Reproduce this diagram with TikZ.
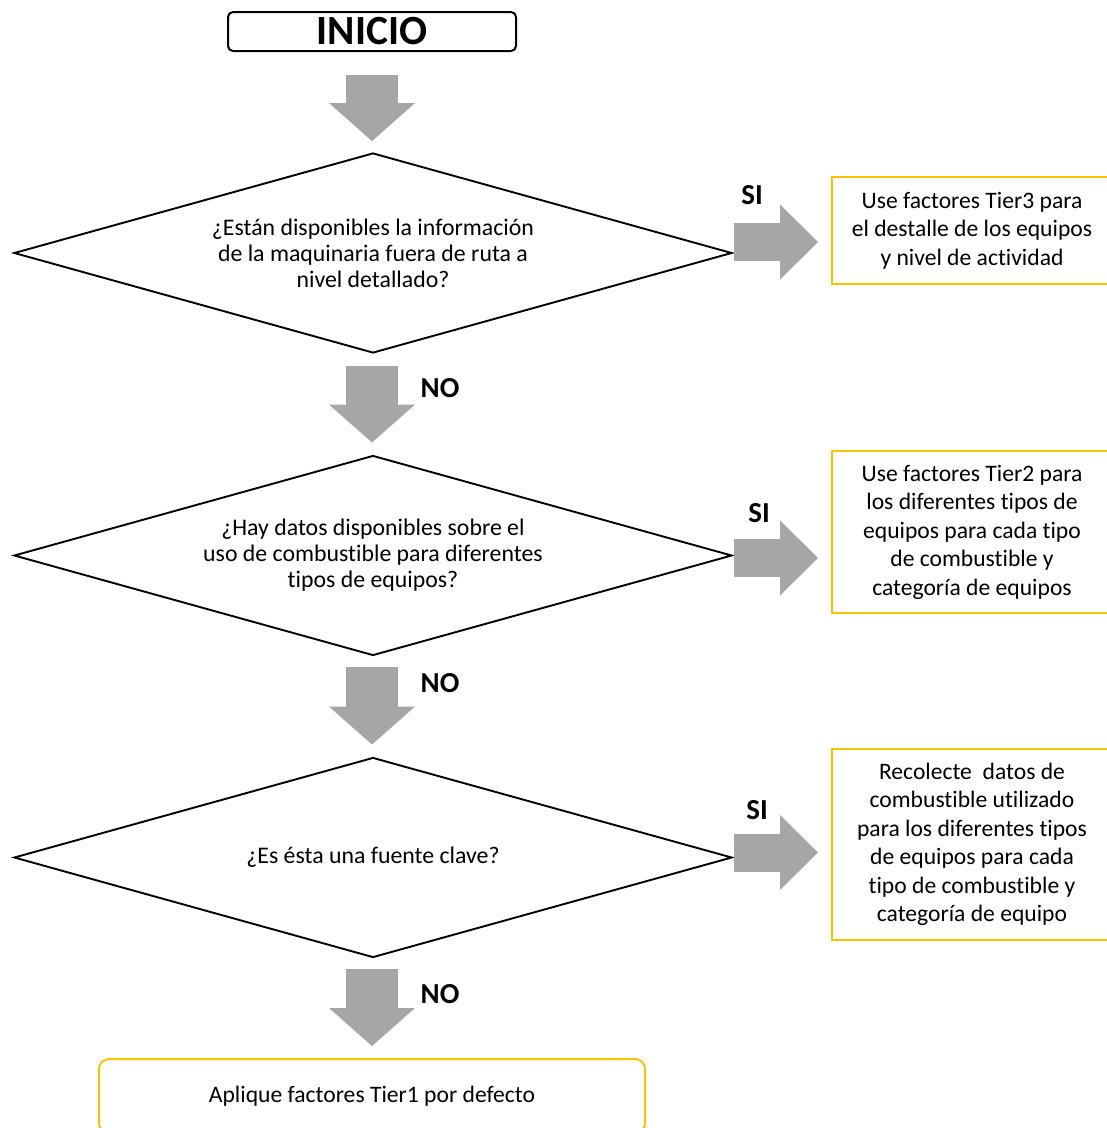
\documentclass[tikz,border=0pt]{standalone}
\usepackage{fontspec}
\setmainfont{Carlito}[Ligatures=NoCommon]
\usetikzlibrary{arrows.meta,shapes.geometric,calc}
\definecolor{garrow}{HTML}{A6A6A6}
\definecolor{gold}{HTML}{FFC000}
\begin{document}
\begin{tikzpicture}[x=1pt,y=-1pt,
  dia/.style={draw, line width=1.9pt, shape=diamond, aspect=3.59, minimum width=718pt, minimum height=200pt, inner sep=0pt, align=center, font=\fontsize{23.8}{26}\selectfont},
  rbox/.style={draw=gold, line width=2pt, minimum width=280pt, inner sep=0pt, align=center, font=\fontsize{23.6}{28.5}\selectfont},
  blkv/.style={draw=garrow, line width=52pt, -{Triangle[length=38pt,width=86pt,line width=0pt]}},
  blkh/.style={draw=garrow, line width=38pt, -{Triangle[length=38pt,width=75pt,line width=0pt]}},
  lbl/.style={font=\fontsize{29}{29}\selectfont\bfseries, inner sep=0pt}
]
\useasboundingbox (0,0) rectangle (1107,1128);
\clip (0,0) rectangle (1107,1128);
\node[draw, line width=2pt, rounded corners=5pt, minimum width=288pt, minimum height=39pt, inner sep=0pt, font=\fontsize{41.5}{41.5}\selectfont\bfseries] (start) at (372,31.5) {INICIO};
\node[dia] (d1) at (373,253) {¿Están disponibles la información\\de la maquinaria fuera de ruta a\\nivel detallado?};
\node[dia] (d2) at (373,555.5) {¿Hay datos disponibles sobre el\\uso de combustible para diferentes\\tipos de equipos?};
\node[dia] (d3) at (373,857.5) {¿Es ésta una fuente clave?};
\node[rbox, minimum height=107pt] (b1) at (972,230.5) {Use factores Tier3 para\\el destalle de los equipos\\y nivel de actividad};
\node[rbox, minimum height=162pt] (b2) at (972,532) {Use factores Tier2 para\\los diferentes tipos de\\equipos para cada tipo\\de combustible y\\categoría de equipos};
\node[rbox, minimum height=191pt] (b3) at (972,844.5) {Recolecte \ datos de\\combustible utilizado\\para los diferentes tipos\\de equipos para cada\\tipo de combustible y\\categoría de equipo};
\node[draw=gold, line width=2pt, rounded corners=10pt, minimum width=546pt, minimum height=74pt, inner sep=0pt, font=\fontsize{23.6}{28.5}\selectfont] (b4) at (372,1096) {Aplique factores Tier1 por defecto};
\draw[blkv, shorten <=23pt, shorten >=11pt] (start.south) -- (start.south |- d1.north);
\draw[blkv, shorten <=12pt, shorten >=12pt] (d1.south -| start.south) -- (start.south |- d2.north);
\draw[blkv, shorten <=11pt, shorten >=12pt] (d2.south -| start.south) -- (start.south |- d3.north);
\draw[blkv, shorten <=11pt, shorten >=12pt] (d3.south -| start.south) -- (start.south |- b4.north);
\draw[blkh, shorten <=1pt, shorten >=13pt] ([yshift=11pt]d1.east) -- ([yshift=11pt]d1.east -| b1.west);
\draw[blkh, shorten <=1pt, shorten >=13pt] ([yshift=-2.5pt]d2.east) -- ([yshift=-2.5pt]d2.east -| b2.west);
\draw[blkh, shorten <=1pt, shorten >=13pt] ([yshift=5pt]d3.east) -- ([yshift=5pt]d3.east -| b3.west);
\node[lbl] (si1) at (752,195) {SI};
\node[lbl] (si2) at (759,513) {SI};
\node[lbl] (si3) at (757,810) {SI};
\node[lbl] (no1) at (440,388) {NO};
\node[lbl] (no2) at (440,683) {NO};
\node[lbl] (no3) at (440,994) {NO};
\end{tikzpicture}
\end{document}
